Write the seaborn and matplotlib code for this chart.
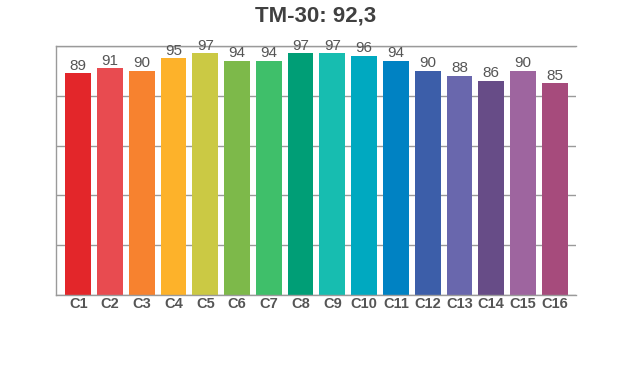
import matplotlib
matplotlib.use("Agg")
import matplotlib.pyplot as plt
import seaborn as sns
import pandas as pd

categories = ["C1", "C2", "C3", "C4", "C5", "C6", "C7", "C8",
              "C9", "C10", "C11", "C12", "C13", "C14", "C15", "C16"]
values = [89, 91, 90, 95, 97, 94, 94, 97, 97, 96, 94, 90, 88, 86, 90, 85]
colors = ["#E3262A", "#E84B50", "#F7822F", "#FDB22A", "#CBC944", "#7DB94A",
          "#3FBF6A", "#009E76", "#17BDB0", "#00A9C0", "#0082C3", "#3C5EA9",
          "#6967AD", "#674C87", "#9E659F", "#A64B7C"]
title = "TM-30: 92,3"

sns.set_style("white")
plt.rcParams['font.family'] = ['Liberation Sans', 'DejaVu Sans']

df = pd.DataFrame({"cat": categories, "val": values})

fig = plt.figure(figsize=(6.2, 3.7), dpi=100)
ax = fig.add_axes([56/620, 75/370, 520/620, 249/370])
sns.barplot(data=df, x="cat", y="val", hue="cat", palette=colors,
            legend=False, width=0.81, saturation=1, linewidth=0, ax=ax)

ax.set_ylim(0, 100)
ax.set_xlim(-0.7, 15.67)
ax.set_yticks([0, 20, 40, 60, 80, 100])
ax.set_yticklabels([])
ax.tick_params(axis='y', length=0)
ax.tick_params(axis='x', length=0, pad=1.5)
ax.yaxis.grid(True, color="#9a9a9a", linewidth=1, linestyle="-")
ax.set_axisbelow(True)
ax.set_xlabel("")
ax.set_ylabel("")
for lbl in ax.get_xticklabels():
    lbl.set_fontsize(10.5)
    lbl.set_fontweight("bold")
    lbl.set_color("#555555")

for s in ["left", "top", "bottom"]:
    ax.spines[s].set_visible(True)
    ax.spines[s].set_color("#9a9a9a")
    ax.spines[s].set_linewidth(1)
ax.spines["right"].set_visible(False)

for i, v in enumerate(values):
    ax.text(i, v + 0.3, str(v), ha="center", va="bottom", fontsize=11,
            color="#555555")

fig.text((56 + 260) / 620, 1 - 16/370, title, ha="center", va="center",
         fontsize=16, fontweight="bold", color="#404040")

fig.savefig("out.png", dpi=100)
